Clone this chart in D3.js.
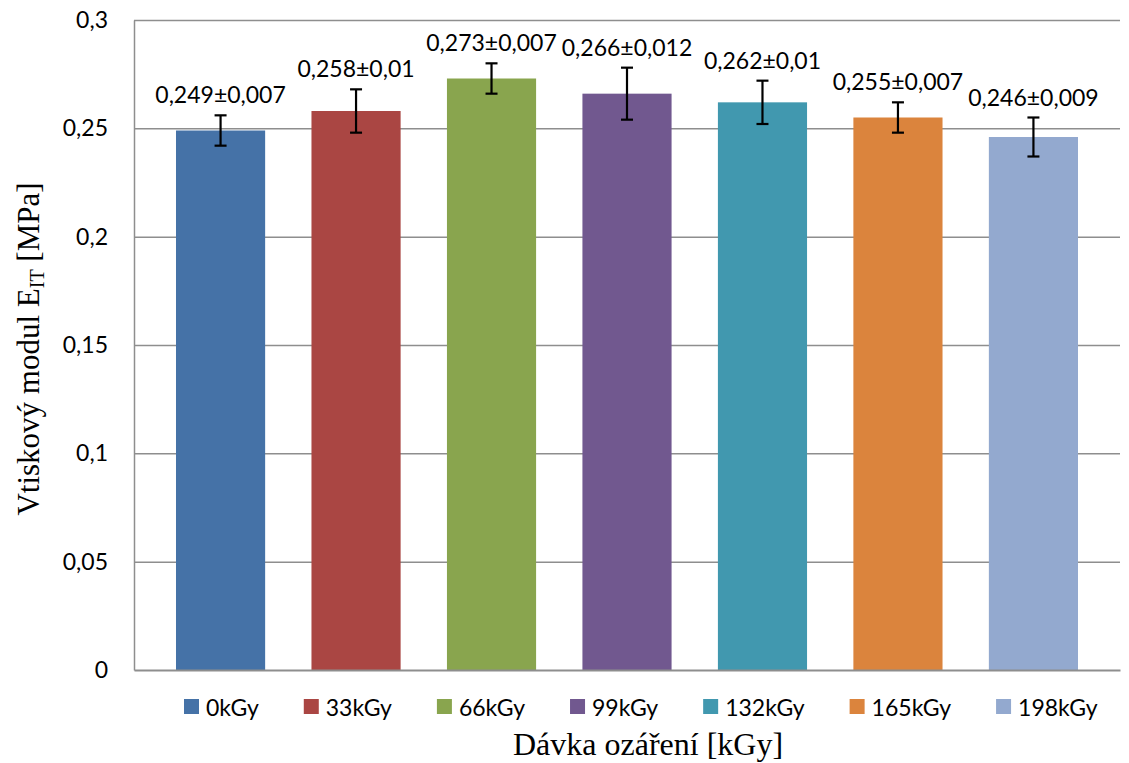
<!DOCTYPE html>
<html>
<head>
<meta charset="utf-8">
<script src="https://cdn.jsdelivr.net/npm/d3@7"></script>
<style>
  html, body { margin: 0; padding: 0; background: #fff; }
  svg { display: block; }
  .sans { font-family: Lato, "Open Sans", sans-serif; }
  .serif { font-family: "Liberation Serif", "DejaVu Serif", serif; }
</style>
</head>
<body>
<svg id="chart" width="1129" height="763"></svg>
<script>
// Radiation doses and measured indentation modulus (mean ± standard deviation)
const doses = ["0kGy", "33kGy", "66kGy", "99kGy", "132kGy", "165kGy", "198kGy"];
const modulus = [0.249, 0.258, 0.273, 0.266, 0.262, 0.255, 0.246];
const deviation = [0.007, 0.01, 0.007, 0.012, 0.01, 0.007, 0.009];
const colors = ["#4572A7", "#AA4643", "#89A54E", "#71588F", "#4198AF", "#DB843D", "#93A9CF"];
const yTicks = [0, 0.05, 0.1, 0.15, 0.2, 0.25, 0.3];
const yTickLabels = ["0", "0,05", "0,1", "0,15", "0,2", "0,25", "0,3"];

const svg = d3.select("#chart");
const plot = { left: 134, right: 1120, top: 20, bottom: 670 };

const x = d3.scaleBand()
  .domain(doses)
  .range([plot.left, plot.right])
  .paddingInner(0.342)
  .paddingOuter(0.31);

const y = d3.scaleLinear()
  .domain([0, 0.3])
  .range([plot.bottom, plot.top]);

const comma = v => String(v).replace(".", ",");

// horizontal gridlines
const grid = svg.append("g")
  .attr("transform", `translate(${plot.left},0)`)
  .call(d3.axisLeft(y).tickValues(yTicks.slice(1)).tickSize(-(plot.right - plot.left)).tickFormat(""));
grid.select(".domain").remove();
grid.selectAll(".tick line").attr("stroke", "#8e8e8e").attr("stroke-width", 1.5);

// y axis with tick labels
const yAxis = svg.append("g")
  .attr("class", "sans")
  .attr("transform", `translate(${plot.left},0)`)
  .call(d3.axisLeft(y).tickValues(yTicks).tickSize(0).tickPadding(26)
    .tickFormat((d, i) => yTickLabels[i]));
yAxis.select(".domain").attr("stroke", "#8e8e8e").attr("stroke-width", 1.5);
yAxis.selectAll("text")
  .attr("font-family", "Lato, 'Open Sans', sans-serif")
  .attr("font-size", 23).attr("fill", "#000");

// bars
svg.append("g").selectAll("rect")
  .data(doses)
  .join("rect")
  .attr("x", d => x(d))
  .attr("y", (d, i) => y(modulus[i]))
  .attr("width", x.bandwidth())
  .attr("height", (d, i) => y(0) - y(modulus[i]))
  .attr("fill", (d, i) => colors[i]);

// x axis baseline
const xAxis = svg.append("g")
  .attr("transform", `translate(0,${plot.bottom})`)
  .call(d3.axisBottom(x).tickSize(0).tickFormat(""));
xAxis.select(".domain").attr("stroke", "#8e8e8e").attr("stroke-width", 2);

// error bars
const cap = 6;
const err = svg.append("g").attr("stroke", "#000").attr("stroke-width", 2.2);
doses.forEach((d, i) => {
  const cx = x(d) + x.bandwidth() / 2;
  const hi = y(modulus[i] + deviation[i]);
  const lo = y(modulus[i] - deviation[i]);
  err.append("line").attr("x1", cx).attr("x2", cx).attr("y1", hi).attr("y2", lo);
  err.append("line").attr("x1", cx - cap).attr("x2", cx + cap).attr("y1", hi).attr("y2", hi);
  err.append("line").attr("x1", cx - cap).attr("x2", cx + cap).attr("y1", lo).attr("y2", lo);
});

// value labels above the error bars
svg.append("g").attr("class", "sans").selectAll("text")
  .data(doses)
  .join("text")
  .attr("x", d => x(d) + x.bandwidth() / 2)
  .attr("y", (d, i) => y(modulus[i] + deviation[i]) - 21)
  .attr("text-anchor", "middle")
  .attr("dominant-baseline", "central")
  .attr("font-size", 23)
  .attr("fill", "#000")
  .text((d, i) => `${comma(modulus[i])}±${comma(deviation[i])}`);

// legend
const legend = svg.append("g").attr("class", "sans");
let lx = 184;
doses.forEach((d, i) => {
  const item = legend.append("g").attr("transform", `translate(${lx},699)`);
  item.append("rect").attr("width", 15).attr("height", 15).attr("fill", colors[i]);
  const t = item.append("text")
    .attr("x", 22).attr("y", 8)
    .attr("dominant-baseline", "central")
    .attr("font-size", 23).attr("fill", "#000")
    .text(d);
  lx += 22 + t.node().getComputedTextLength() + 45;
});

// axis titles
svg.append("text")
  .attr("class", "serif")
  .attr("x", 648).attr("y", 755)
  .attr("text-anchor", "middle")
  .attr("font-size", 32).attr("fill", "#000")
  .text("Dávka ozáření [kGy]");

const yTitle = svg.append("text")
  .attr("class", "serif")
  .attr("transform", "translate(39,349) rotate(-90)")
  .attr("text-anchor", "middle")
  .attr("font-size", 31).attr("fill", "#000");
yTitle.append("tspan").text("Vtiskový modul E");
yTitle.append("tspan").attr("font-size", 20).attr("dy", 5).text("IT");
yTitle.append("tspan").attr("dy", -5).text(" [MPa]");
</script>
</body>
</html>
